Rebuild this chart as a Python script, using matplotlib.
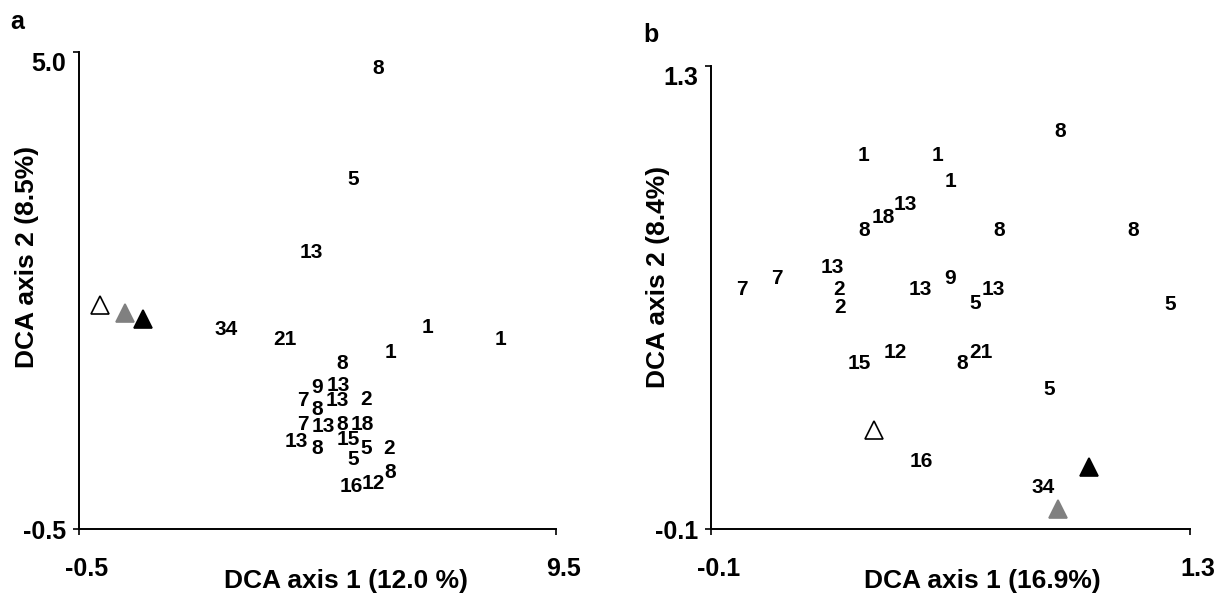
import matplotlib
matplotlib.use("Agg")
import matplotlib.pyplot as plt

plt.rcParams['font.family'] = ['Liberation Sans', 'DejaVu Sans']
plt.rcParams['font.weight'] = 'bold'

# ---- Panel a: DCA sample scores, labelled by sample number ----
a_labels = ["8", "5", "13", "34", "21", "1", "1", "1", "8",
            "9", "13", "7", "13", "2", "8",
            "7", "13", "8", "18",
            "13", "8", "15", "5", "2", "5", "8", "16", "12"]
a_x = [5.77, 5.24, 4.38, 2.58, 3.82, 6.80, 8.33, 6.02, 5.01,
       4.49, 4.93, 4.20, 4.91, 5.52, 4.49,
       4.20, 4.62, 5.01, 5.43,
       4.05, 4.49, 5.14, 5.52, 6.00, 5.24, 6.02, 5.20, 5.66]
a_y = [4.83, 3.55, 2.71, 1.82, 1.71, 1.85, 1.71, 1.56, 1.43,
       1.15, 1.18, 1.01, 1.00, 1.02, 0.90,
       0.73, 0.70, 0.73, 0.73,
       0.53, 0.45, 0.55, 0.45, 0.45, 0.32, 0.18, 0.01, 0.05]
# group centroids: open, grey, black triangle
a_tri_x = [-0.06, 0.46, 0.84]
a_tri_y = [2.08, 1.99, 1.92]
a_xlim = [-0.5, 9.5]
a_ylim = [-0.5, 5.0]
a_xticklabels = ["-0.5", "9.5"]
a_yticklabels = ["-0.5", "5.0"]

# ---- Panel b ----
b_labels = ["8", "1", "1", "1", "13", "18", "8", "8", "8",
            "13", "7", "7", "2", "2", "13", "9", "5", "13", "5",
            "15", "12", "8", "21", "5", "16", "34"]
b_x = [0.920, 0.347, 0.561, 0.599, 0.467, 0.403, 0.347, 0.742, 1.134,
       0.254, 0.093, -0.009, 0.274, 0.277, 0.511, 0.599, 0.672, 0.725, 1.242,
       0.333, 0.438, 0.634, 0.689, 0.888, 0.514, 0.871]
b_y = [1.107, 1.034, 1.034, 0.958, 0.886, 0.849, 0.810, 0.810, 0.810,
       0.698, 0.662, 0.629, 0.629, 0.577, 0.629, 0.662, 0.589, 0.629, 0.586,
       0.405, 0.441, 0.405, 0.441, 0.329, 0.109, 0.033]
b_tri_x = [0.377, 0.915, 1.005]
b_tri_y = [0.199, -0.040, 0.0875]
b_xlim = [-0.1, 1.3]
b_ylim = [-0.1, 1.3]
b_xticklabels = ["-0.1", "1.3"]
b_yticklabels = ["-0.1", "1.3"]

tri_face = ["white", "#808080", "black"]
tri_edge = ["black", "#808080", "black"]

W, H = 1216, 593
fig = plt.figure(figsize=(W / 100, H / 100), dpi=100)


def px_rect(left, top, right, bottom):
    return [left / W, (H - bottom) / H, (right - left) / W, (bottom - top) / H]


def draw_panel(ax, labels, xs, ys, tx, ty, xlim, ylim, xtl, ytl):
    ax.set_xlim(xlim)
    ax.set_ylim(ylim)
    for s in ("top", "right"):
        ax.spines[s].set_visible(False)
    for s in ("left", "bottom"):
        ax.spines[s].set_linewidth(1.4)
    ax.set_xticks(xlim)
    ax.set_yticks(ylim)
    ax.tick_params(direction="out", length=4.5, width=1.2,
                   labelbottom=False, labelleft=False)

    # tick labels at the two ends of each axis
    for xv, lab in zip(xlim, xtl):
        ax.annotate(lab, xy=(xv, 0), xycoords=("data", "axes fraction"),
                    xytext=(5.4, -33.8), textcoords="offset points",
                    ha="center", va="baseline", fontsize=18,
                    fontweight="bold", annotation_clip=False)
    for i, (yv, lab) in enumerate(zip(ylim, ytl)):
        dy = -7.2 if i == 0 else -13.7
        ax.annotate(lab, xy=(0, yv), xycoords=("axes fraction", "data"),
                    xytext=(-9.5, dy), textcoords="offset points",
                    ha="right", va="baseline", fontsize=18,
                    fontweight="bold", annotation_clip=False)

    # sample labels
    for lab, xv, yv in zip(labels, xs, ys):
        ax.annotate(lab, xy=(xv, yv), xytext=(0, -5.4),
                    textcoords="offset points", ha="center", va="baseline",
                    fontsize=15, fontweight="bold", annotation_clip=False)

    # centroids
    for xv, yv, fc, ec in zip(tx, ty, tri_face, tri_edge):
        ax.plot([xv], [yv], marker="^", markersize=13, markerfacecolor=fc,
                markeredgecolor=ec, markeredgewidth=1.2, linestyle="none",
                clip_on=False)


ax_a = fig.add_axes(px_rect(79, 52, 556, 529))
draw_panel(ax_a, a_labels, a_x, a_y, a_tri_x, a_tri_y, a_xlim, a_ylim,
           a_xticklabels, a_yticklabels)
ax_b = fig.add_axes(px_rect(711, 66, 1190, 529))
draw_panel(ax_b, b_labels, b_x, b_y, b_tri_x, b_tri_y, b_xlim, b_ylim,
           b_xticklabels, b_yticklabels)

# axis titles
fig.text(346 / W, (H - 588) / H, "DCA axis 1 (12.0 %)", ha="center",
         va="baseline", fontsize=19, fontweight="bold")
fig.text(27 / W, (H - 257) / H, "DCA axis 2 (8.5%)", ha="center",
         va="center", rotation=90, fontsize=19, fontweight="bold")
fig.text(982 / W, (H - 588) / H, "DCA axis 1 (16.9%)", ha="center",
         va="baseline", fontsize=19, fontweight="bold")
fig.text(658 / W, (H - 277) / H, "DCA axis 2 (8.4%)", ha="center",
         va="center", rotation=90, fontsize=19, fontweight="bold")

# panel letters
fig.text(10 / W, (H - 29) / H, "a", ha="left", va="baseline",
         fontsize=18, fontweight="bold")
fig.text(643 / W, (H - 42) / H, "b", ha="left", va="baseline",
         fontsize=18, fontweight="bold")

fig.savefig("out.png", dpi=100)
